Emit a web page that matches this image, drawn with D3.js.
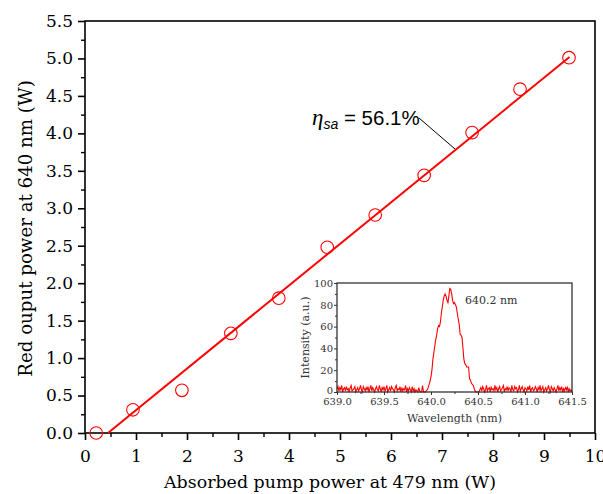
<!DOCTYPE html>
<html>
<head>
<meta charset="utf-8">
<script src="https://cdn.jsdelivr.net/npm/d3@7"></script>
<style>
  html, body { margin: 0; padding: 0; background: #fff; }
  svg { display: block; }
</style>
</head>
<body>
<svg id="chart" width="603" height="494"></svg>
<script>
// ---------- main data ----------
const pumpPower = [0.22, 0.94, 1.90, 2.86, 3.80, 4.75, 5.69, 6.65, 7.59, 8.53, 9.49];
const redPower  = [0.00, 0.31, 0.57, 1.33, 1.80, 2.48, 2.91, 3.44, 4.01, 4.59, 5.01];
const fitX = [0.45, 9.50];
const fitY = [0.00, 5.02];
const xTicks = [0,1,2,3,4,5,6,7,8,9,10];
const yTicks = [0.0,0.5,1.0,1.5,2.0,2.5,3.0,3.5,4.0,4.5,5.0,5.5];
const efficiencyLabel = "56.1%";

// ---------- inset spectrum (0.01 nm sampling) ----------
const specLeftStart = 639.00;
const specLeft = [3,5,1,4,2,6,0,3,4,1, 5,2,3,0,4,6,1,2,3,5, 0,2,4,1,3,6,2,0,5,3,
                  1,4,2,5,0,3,6,1,4,2, 0,3,5,2,1,6,3,0,4,2, 5,1,3,6,0,2,4,1,5,3,
                  2,0,4,6,1,3,2,5,0,4, 1,3,2,6,0,3,1,4,2,0, 5,1,3,0,2,1,0,4,1,0,
                  0,6,0,0];
const specPeakStart = 639.94;
const specPeak = [0,1,2,4,7,10,14,20,30,36, 42,48,52,58,61,60,64,72,78,84,
                  88,90,88,84,82,88,95,94,90,84, 81,82,80,78,72,67,62,53,52,50,
                  40,30,26,25,23,23,23,12,11,8, 7,6,3,1,0,0,0,0];
const specRightStart = 640.52;
const specRight = [2,4,1,5,3,0,2,6,1,3, 4,0,5,2,3,1,6,2,4,0, 3,5,1,2,4,6,0,3,2,5,
                   1,4,3,0,6,2,1,5,3,4, 0,2,6,1,3,5,2,0,4,3, 1,5,2,6,0,3,4,1,2,5,
                   3,0,4,2,6,1,3,5,0,2, 4,1,3,6,2,0,5,3,1,4, 2,0,3,6,1,4,2,5,0,3,
                   1,4,2,5,0,3,1,2,0];
const insetXTicks = [639.0,639.5,640.0,640.5,641.0,641.5];
const insetYTicks = [0,20,40,60,80,100];
const peakLabel = "640.2 nm";

const red = "#ff0000";
const serif = "'DejaVu Serif', serif";

const svg = d3.select("#chart");

// ---------- main chart ----------
const M = {left: 85, right: 595, top: 21, bottom: 433};
const x = d3.scaleLinear().domain([0,10]).range([M.left, M.right]);
const y = d3.scaleLinear().domain([0,5.5]).range([M.bottom, M.top]);

// frame
svg.append("rect").attr("x", M.left).attr("y", M.top)
  .attr("width", M.right - M.left).attr("height", M.bottom - M.top)
  .attr("fill", "none").attr("stroke", "#000").attr("stroke-width", 1.6);

// minor ticks
const xMinor = d3.range(0.5, 10, 1);
const yMinor = d3.range(0.25, 5.5, 0.5);
svg.append("g").attr("transform", `translate(0,${M.bottom})`)
  .call(d3.axisBottom(x).tickValues(xMinor).tickSize(4).tickFormat(""))
  .call(g => g.select(".domain").remove())
  .selectAll("line").attr("stroke-width", 1.4);
svg.append("g").attr("transform", `translate(${M.left},0)`)
  .call(d3.axisLeft(y).tickValues(yMinor).tickSize(4).tickFormat(""))
  .call(g => g.select(".domain").remove())
  .selectAll("line").attr("stroke-width", 1.4);

// major ticks + labels
const gx = svg.append("g").attr("transform", `translate(0,${M.bottom})`)
  .call(d3.axisBottom(x).tickValues(xTicks).tickSize(7).tickPadding(10).tickFormat(d3.format("d")));
gx.select(".domain").remove();
gx.selectAll("line").attr("stroke-width", 1.6);
gx.selectAll("text").attr("font-family", serif).attr("font-size", 17).attr("fill", "#000");

const gy = svg.append("g").attr("transform", `translate(${M.left},0)`)
  .call(d3.axisLeft(y).tickValues(yTicks).tickSize(7).tickPadding(5).tickFormat(d3.format(".1f")));
gy.select(".domain").remove();
gy.selectAll("line").attr("stroke-width", 1.6);
gy.selectAll("text").attr("font-family", serif).attr("font-size", 17).attr("fill", "#000");

// axis titles
svg.append("text").attr("x", 330).attr("y", 488)
  .attr("text-anchor", "middle").attr("font-family", serif).attr("font-size", 17.4)
  .text("Absorbed pump power at 479 nm (W)");
svg.append("text").attr("transform", `translate(32,228.5) rotate(-90)`)
  .attr("text-anchor", "middle").attr("font-family", serif).attr("font-size", 18.2)
  .text("Red ouput power at 640 nm (W)");

// fit line
const fitData = fitX.map((d,i) => [d, fitY[i]]);
svg.append("path").datum(fitData)
  .attr("d", d3.line().x(d => x(d[0])).y(d => y(d[1])))
  .attr("stroke", red).attr("stroke-width", 2).attr("fill", "none");

// points
svg.append("g").selectAll("circle").data(pumpPower.map((d,i) => [d, redPower[i]]))
  .join("circle").attr("cx", d => x(d[0])).attr("cy", d => y(d[1])).attr("r", 6.3)
  .attr("fill", "none").attr("stroke", red).attr("stroke-width", 1.1);

// annotation
const ann = svg.append("text").attr("x", 312).attr("y", 125)
  .attr("font-family", "'Liberation Sans', Arial, sans-serif").attr("font-size", 20.5);
ann.append("tspan").attr("font-style", "italic").attr("font-family", "'Liberation Serif', serif").attr("font-size", 23).text("η");
ann.append("tspan").attr("font-style", "italic").attr("font-size", 14).attr("dy", 4).text("sa");
ann.append("tspan").attr("dy", -4).text(" = " + efficiencyLabel);
svg.append("line").attr("x1", 419).attr("y1", 118).attr("x2", 455).attr("y2", 149)
  .attr("stroke", "#000").attr("stroke-width", 1);

// ---------- inset ----------
const I = {left: 337, right: 572, top: 283, bottom: 392};
const ix = d3.scaleLinear().domain([639.0, 641.5]).range([I.left, I.right]);
const iy = d3.scaleLinear().domain([0, 100]).range([I.bottom, I.top]);

const spec = [];
specLeft.forEach((v,i) => spec.push([specLeftStart + i*0.01, v]));
specPeak.forEach((v,i) => spec.push([specPeakStart + i*0.01, v]));
specRight.forEach((v,i) => spec.push([specRightStart + i*0.01, v]));

svg.append("path").datum(spec.filter(d => d[0] <= 641.5001))
  .attr("d", d3.line().x(d => ix(d[0])).y(d => iy(d[1])))
  .attr("stroke", red).attr("stroke-width", 1.1).attr("fill", "none");

svg.append("rect").attr("x", I.left).attr("y", I.top)
  .attr("width", I.right - I.left).attr("height", I.bottom - I.top)
  .attr("fill", "none").attr("stroke", "#222").attr("stroke-width", 1.2);

const ixMinor = d3.range(639.25, 641.5, 0.5);
const iyMinor = d3.range(10, 100, 20);
svg.append("g").attr("transform", `translate(0,${I.bottom})`)
  .call(d3.axisBottom(ix).tickValues(ixMinor).tickSize(2).tickFormat(""))
  .call(g => g.select(".domain").remove())
  .selectAll("line").attr("stroke", "#333");
svg.append("g").attr("transform", `translate(${I.left},0)`)
  .call(d3.axisLeft(iy).tickValues(iyMinor).tickSize(2).tickFormat(""))
  .call(g => g.select(".domain").remove())
  .selectAll("line").attr("stroke", "#333");

const igx = svg.append("g").attr("transform", `translate(0,${I.bottom})`)
  .call(d3.axisBottom(ix).tickValues(insetXTicks).tickSize(3).tickPadding(2.5).tickFormat(d3.format(".1f")));
igx.select(".domain").remove();
igx.selectAll("line").attr("stroke", "#333");
igx.selectAll("text").attr("font-family", serif).attr("font-size", 10).attr("fill", "#333");

const igy = svg.append("g").attr("transform", `translate(${I.left},0)`)
  .call(d3.axisLeft(iy).tickValues(insetYTicks).tickSize(3).tickPadding(1).tickFormat(d3.format("d")));
igy.select(".domain").remove();
igy.selectAll("line").attr("stroke", "#333");
igy.selectAll("text").attr("font-family", serif).attr("font-size", 10).attr("fill", "#333");
igy.selectAll("text").filter(d => d === 0).attr("dy", "0.1em");

svg.append("text").attr("x", (I.left + I.right)/2).attr("y", 422)
  .attr("text-anchor", "middle").attr("font-family", serif).attr("font-size", 11).attr("fill", "#333")
  .text("Wavelength (nm)");
svg.append("text").attr("transform", `translate(309,${(I.top + I.bottom)/2}) rotate(-90)`)
  .attr("text-anchor", "middle").attr("font-family", serif).attr("font-size", 11).attr("fill", "#333")
  .text("Intensity (a.u.)");
svg.append("text").attr("x", 465).attr("y", 304)
  .attr("font-family", serif).attr("font-size", 11).attr("fill", "#333")
  .text(peakLabel);
</script>
</body>
</html>
